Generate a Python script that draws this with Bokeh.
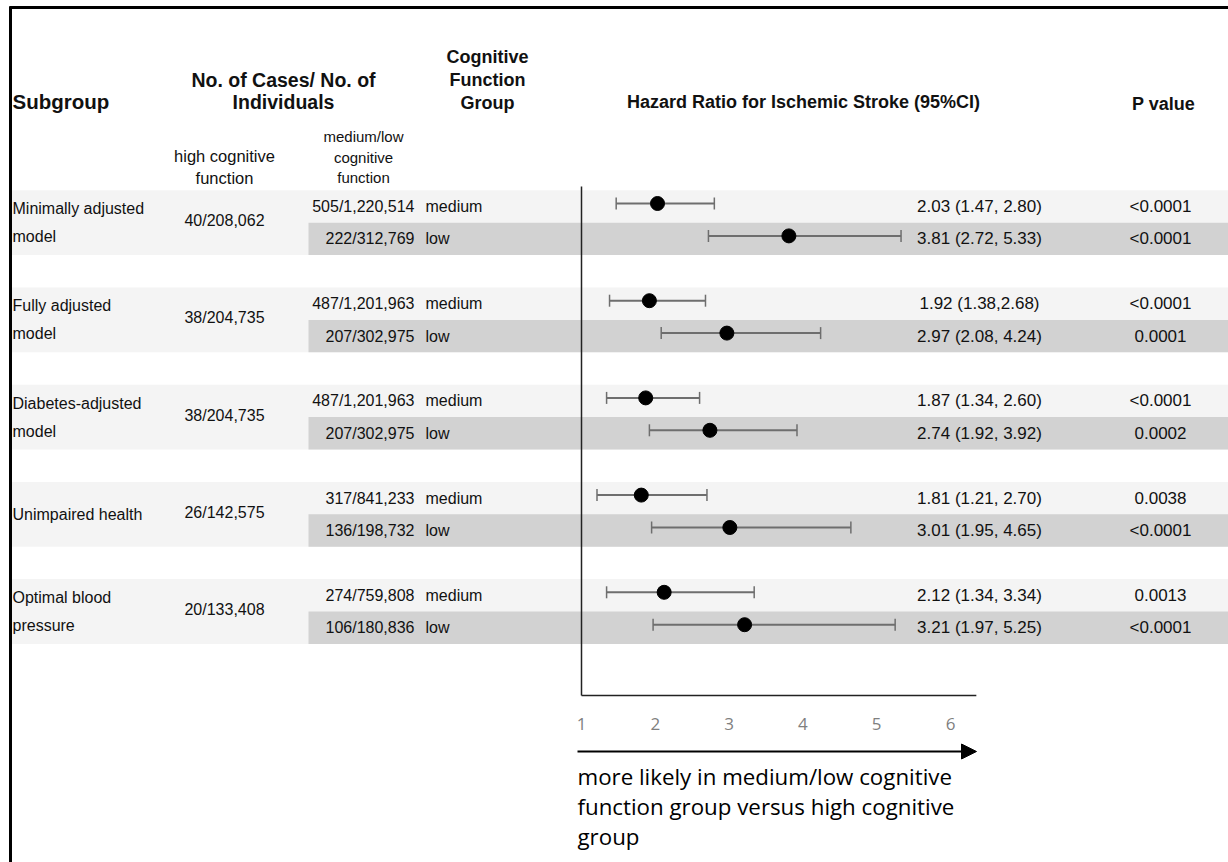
from bokeh.plotting import figure
from bokeh.models import Range1d, Arrow, NormalHead
from bokeh.core.properties import value
from bokeh.embed import file_html
from bokeh.resources import INLINE

# ---- data -------------------------------------------------------------
subgroups = ["Minimally adjusted\nmodel", "Fully adjusted\nmodel",
             "Diabetes-adjusted\nmodel", "Unimpaired health",
             "Optimal blood\npressure"]
high_counts = ["40/208,062", "38/204,735", "38/204,735", "26/142,575", "20/133,408"]
medlow_counts = ["505/1,220,514", "222/312,769",
                 "487/1,201,963", "207/302,975",
                 "487/1,201,963", "207/302,975",
                 "317/841,233", "136/198,732",
                 "274/759,808", "106/180,836"]
cog_group = ["medium", "low"] * 5
hr = [2.03, 3.81, 1.92, 2.97, 1.87, 2.74, 1.81, 3.01, 2.12, 3.21]
ci_low = [1.47, 2.72, 1.38, 2.08, 1.34, 1.92, 1.21, 1.95, 1.34, 1.97]
ci_high = [2.80, 5.33, 2.68, 4.24, 2.60, 3.92, 2.70, 4.65, 3.34, 5.25]
hr_text = ["2.03 (1.47, 2.80)", "3.81 (2.72, 5.33)",
           "1.92 (1.38,2.68)", "2.97 (2.08, 4.24)",
           "1.87 (1.34, 2.60)", "2.74 (1.92, 3.92)",
           "1.81 (1.21, 2.70)", "3.01 (1.95, 4.65)",
           "2.12 (1.34, 3.34)", "3.21 (1.97, 5.25)"]
p_values = ["<0.0001", "<0.0001", "<0.0001", "0.0001", "<0.0001",
            "0.0002", "0.0038", "<0.0001", "0.0013", "<0.0001"]
hr_ticks = [1, 2, 3, 4, 5, 6]
hr_axis_end = 6.35

# ---- layout -----------------------------------------------------------
W, H = 1228, 862
ROW_Y0, ROW_H = 206.0, 32.4          # centre of first row, row pitch
HR_ORIGIN_PX, PX_PER_UNIT = 581.0, 73.8
AXIS_Y = 695
TABLE_FONT = value("Liberation Sans")
AXIS_FONT = value("Open Sans")

p = figure(width=W, height=H, output_backend="svg", toolbar_location=None,
           x_range=Range1d(0, W), y_range=Range1d(H, 0),
           x_axis_type=None, y_axis_type=None, min_border=0,
           outline_line_color=None, background_fill_color="white",
           border_fill_color="white")
p.grid.visible = False
p.extra_x_ranges = {"hr": Range1d(1 - HR_ORIGIN_PX / PX_PER_UNIT,
                                  1 + (W - HR_ORIGIN_PX) / PX_PER_UNIT)}

n_groups = len(subgroups)
row_y = []
for g in range(n_groups):
    row_y += [ROW_Y0 + (3 * g) * ROW_H, ROW_Y0 + (3 * g + 1) * ROW_H]
group_mid = [(row_y[2 * g] + row_y[2 * g + 1]) / 2 for g in range(n_groups)]

# row shading: light band over the whole group, darker band on the second row
p.quad(left=9, right=W,
       top=[row_y[2 * g] - ROW_H / 2 for g in range(n_groups)],
       bottom=[row_y[2 * g + 1] + ROW_H / 2 for g in range(n_groups)],
       fill_color="#f4f4f4", line_color=None)
p.quad(left=308, right=W,
       top=[row_y[2 * g + 1] - ROW_H / 2 for g in range(n_groups)],
       bottom=[row_y[2 * g + 1] + ROW_H / 2 for g in range(n_groups)],
       fill_color="#d2d2d2", line_color=None)

# frame lines
p.segment(x0=[9, 10], y0=[7, 6], x1=[W, 10], y1=[7, H],
          line_color="black", line_width=3)


def txt(x, y, t, size="16px", align="left", bold=False, color="#111111",
        font=TABLE_FONT):
    p.text(x=x, y=y, text=t, text_font=font, text_font_size=size,
           text_align=align, text_baseline="middle", text_color=color,
           text_font_style="bold" if bold else "normal")


# header
txt([12], [101], ["Subgroup"], size="20.5px", bold=True)
txt([283, 283], [79, 101], ["No. of Cases/ No. of", "Individuals"],
    size="19.5px", align="center", bold=True)
txt([487, 487, 487], [56, 79, 102], ["Cognitive", "Function", "Group"],
    size="18px", align="center", bold=True)
txt([803], [101], ["Hazard Ratio for Ischemic Stroke (95%CI)"], size="18px",
    align="center", bold=True)
txt([1163], [103], ["P value"], size="18px", align="center", bold=True)
txt([224, 224], [155, 177], ["high cognitive", "function"], size="16.5px",
    align="center")
txt([363, 363, 363], [136, 157, 177], ["medium/low", "cognitive", "function"],
    size="15px", align="center")

# subgroup labels
for g, name in enumerate(subgroups):
    lines = name.split("\n")
    if len(lines) == 2:
        txt([12, 12], [group_mid[g] - 14, group_mid[g] + 14], lines)
    else:
        txt([12], [group_mid[g]], lines)

txt([224] * n_groups, [m - 2 for m in group_mid], high_counts, align="center")
txt([414] * len(row_y), row_y, medlow_counts, align="right")
txt([425] * len(row_y), row_y, cog_group)
txt([979] * len(row_y), row_y, hr_text, size="17px", align="center")
txt([1160] * len(row_y), row_y, p_values, size="17px", align="center")

# forest plot
mark_y = [y - 3 for y in row_y]
p.segment(x0=ci_low, y0=mark_y, x1=ci_high, y1=mark_y, x_range_name="hr",
          line_color="#6e6e6e", line_width=2)
p.segment(x0=ci_low + ci_high, y0=[y - 6 for y in mark_y] * 2,
          x1=ci_low + ci_high, y1=[y + 6 for y in mark_y] * 2,
          x_range_name="hr", line_color="#6e6e6e", line_width=1.5)
p.scatter(x=hr, y=mark_y, x_range_name="hr", size=14, color="black")

# axis: reference line at HR = 1 and baseline
p.segment(x0=[1, 1], y0=[186, AXIS_Y], x1=[1, hr_axis_end], y1=[AXIS_Y, AXIS_Y],
          x_range_name="hr", line_color="#222222", line_width=1.5)
p.text(x=hr_ticks, y=[723] * len(hr_ticks), text=[str(t) for t in hr_ticks],
       x_range_name="hr", text_font=AXIS_FONT, text_font_size="17px",
       text_align="center", text_baseline="middle", text_color="#7f7f7f")

# direction arrow and caption
p.add_layout(Arrow(x_start=577, y_start=751, x_end=976, y_end=751,
                   line_color="black", line_width=2,
                   end=NormalHead(size=15, fill_color="black",
                                  line_color="black")))
txt([577, 577, 577], [776, 806, 836],
    ["more likely in medium/low cognitive",
     "function group versus high cognitive", "group"],
    size="22.3px", color="#000000", font=AXIS_FONT)

open("out.html", "w").write(file_html(p, INLINE))
